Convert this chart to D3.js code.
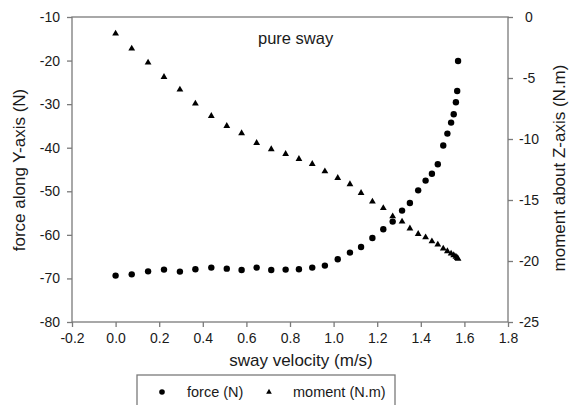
<!DOCTYPE html>
<html><head><meta charset="utf-8">
<script src="https://cdn.jsdelivr.net/npm/d3@7"></script>
<style>
html,body{margin:0;padding:0;background:#fff;}
svg{display:block;font-family:"Liberation Sans",Arial,sans-serif;}
</style></head>
<body>
<svg id="chart" width="569" height="405"></svg>
<script>
const velocity = [0.000,0.074,0.149,0.222,0.295,0.366,0.439,0.510,0.578,0.647,0.714,0.780,0.841,0.902,
  0.960,1.019,1.075,1.126,1.178,1.228,1.271,1.314,1.350,1.388,1.422,1.451,1.478,1.503,1.522,1.539,1.551,1.561,1.567,1.571];
const force = [-69.35,-69.06,-68.37,-67.97,-68.43,-67.91,-67.52,-67.75,-68.07,-67.52,-68.07,-67.97,-67.91,-67.52,
  -67.06,-65.61,-64.07,-62.79,-60.72,-58.73,-56.96,-54.43,-52.69,-49.78,-47.55,-45.99,-43.81,-39.49,-36.76,-34.24,-32.33,-29.58,-26.98,-20.10];
const moment = [-1.36,-2.59,-3.74,-4.92,-5.95,-7.10,-8.11,-8.93,-9.53,-10.33,-10.84,-11.23,-11.64,-12.05,
  -12.65,-13.20,-13.71,-14.43,-15.13,-15.66,-16.34,-16.77,-17.34,-17.79,-18.06,-18.39,-18.66,-18.98,-19.20,-19.39,-19.53,-19.65,-19.75,-19.82];
const xTicks = [-0.2,0.0,0.2,0.4,0.6,0.8,1.0,1.2,1.4,1.6,1.8];
const yLeftTicks = [-80,-70,-60,-50,-40,-30,-20,-10];
const yRightTicks = [-25,-20,-15,-10,-5,0];
const xTitle = "sway velocity (m/s)";
const yLeftTitle = "force along Y-axis (N)";
const yRightTitle = "moment about Z-axis (N.m)";
const annotation = "pure sway";
const legendLabels = ["force (N)", "moment (N.m)"];

const svg = d3.select("#chart");
const L = 72, R = 508, T = 17, B = 322;
const axisColor = "#7a7a7a";
const textColor = "#1a1a1a";

const x = d3.scaleLinear().domain([-0.2, 1.8]).range([L, R]);
const yL = d3.scaleLinear().domain([-80, -10]).range([B, T]);
const yR = d3.scaleLinear().domain([-25, 0]).range([B, T]);

// frame
svg.append("rect").attr("x", L).attr("y", T).attr("width", R - L).attr("height", B - T)
  .attr("fill", "none").attr("stroke", axisColor).attr("stroke-width", 1.3);

function styleAxis(g) {
  g.select(".domain").remove();
  g.selectAll(".tick line").attr("stroke", axisColor).attr("stroke-width", 1.3);
  g.selectAll(".tick text").attr("fill", textColor).style("font-size", "14px");
}

const gx = svg.append("g").attr("transform", `translate(0,${B})`)
  .call(d3.axisBottom(x).tickValues(xTicks).tickSize(5).tickPadding(6));
styleAxis(gx);
gx.selectAll(".tick text").text(d => d3.format(".1f")(d).replace("−", "-"));

const gl = svg.append("g").attr("transform", `translate(${L},0)`)
  .call(d3.axisLeft(yL).tickValues(yLeftTicks).tickSize(5).tickPadding(7));
styleAxis(gl);
gl.selectAll(".tick text").text(d => String(d));

const gr = svg.append("g").attr("transform", `translate(${R},0)`)
  .call(d3.axisRight(yR).tickValues(yRightTicks).tickSize(5).tickPadding(8));
styleAxis(gr);
gr.selectAll(".tick text").text(d => String(d)).attr("text-anchor", "middle").attr("x", 21);

// titles
svg.append("text").attr("x", 301).attr("y", 366).attr("text-anchor", "middle")
  .attr("fill", textColor).style("font-size", "17px").text(xTitle);
svg.append("text").attr("transform", `translate(25,170) rotate(-90)`).attr("text-anchor", "middle")
  .attr("fill", textColor).style("font-size", "17px").text(yLeftTitle);
svg.append("text").attr("transform", `translate(565,168) rotate(-90)`).attr("text-anchor", "middle")
  .attr("fill", textColor).style("font-size", "17px").text(yRightTitle);
svg.append("text").attr("x", 258).attr("y", 44).attr("fill", textColor)
  .style("font-size", "16.5px").text(annotation);

// data
const pts = velocity.map((v, i) => ({v, f: force[i], m: moment[i]}));
svg.append("g").selectAll("path").data(pts).join("path")
  .attr("transform", d => `translate(${x(d.v)},${yR(d.m)})`)
  .attr("d", d3.symbol(d3.symbolTriangle, 20)).attr("fill", "#000");
svg.append("g").selectAll("circle").data(pts).join("circle")
  .attr("cx", d => x(d.v)).attr("cy", d => yL(d.f)).attr("r", 3.2).attr("fill", "#000");

// legend
const lg = svg.append("g");
lg.append("rect").attr("x", 137).attr("y", 375).attr("width", 258).attr("height", 40)
  .attr("fill", "#fff").attr("stroke", axisColor).attr("stroke-width", 1.3);
lg.append("circle").attr("cx", 162).attr("cy", 392).attr("r", 2.8).attr("fill", "#000");
lg.append("text").attr("x", 187).attr("y", 397).attr("fill", textColor).style("font-size", "14.5px").text(legendLabels[0]);
lg.append("path").attr("transform", "translate(269,392)").attr("d", d3.symbol(d3.symbolTriangle, 14)).attr("fill", "#000");
lg.append("text").attr("x", 293).attr("y", 397).attr("fill", textColor).style("font-size", "14.5px").text(legendLabels[1]);
</script>
</body></html>
